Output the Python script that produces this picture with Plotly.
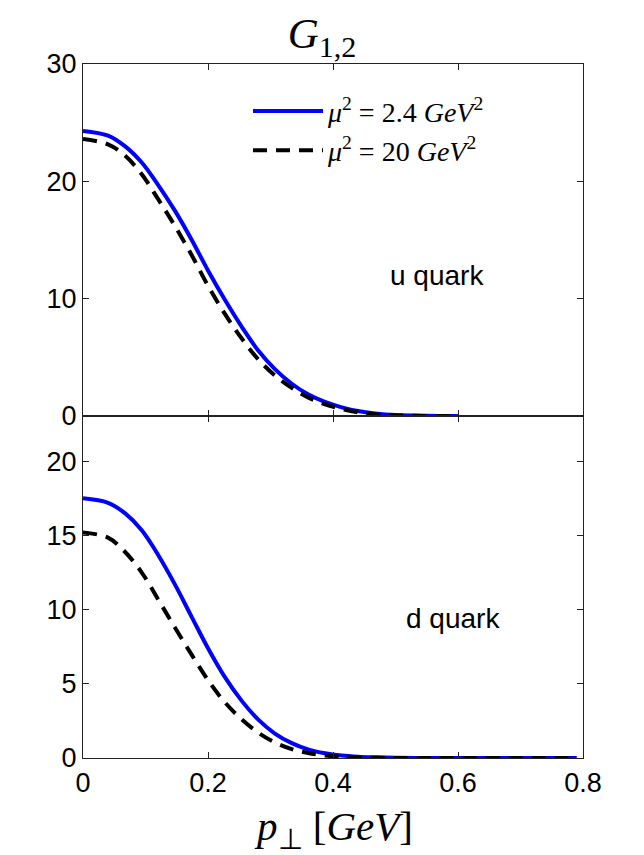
import plotly.graph_objects as go

# p_perp values (GeV)
p_u = [0.0, 0.04, 0.067, 0.094, 0.12, 0.147, 0.174, 0.2, 0.227, 0.254, 0.28, 0.307,
       0.334, 0.36, 0.387, 0.414, 0.44, 0.467, 0.5, 0.55, 0.6]
u_mu24 = [24.3, 23.9, 23.0, 21.6, 19.7, 17.5, 15.0, 12.4, 9.9, 7.6, 5.6, 4.0,
          2.75, 1.85, 1.2, 0.74, 0.42, 0.22, 0.08, 0.02, 0.0]
u_mu20 = [23.6, 23.15, 22.2, 20.6, 18.5, 16.2, 13.7, 11.1, 8.7, 6.6, 4.85, 3.45,
          2.4, 1.58, 1.0, 0.6, 0.32, 0.15, 0.05, 0.01, 0.0]

p_d = [0.0, 0.04, 0.067, 0.094, 0.12, 0.147, 0.174, 0.2, 0.227, 0.254, 0.28, 0.307,
       0.334, 0.36, 0.387, 0.414, 0.44, 0.467, 0.5, 0.55, 0.6, 0.7, 0.79]
d_mu24 = [17.5, 17.2, 16.5, 15.35, 13.7, 11.7, 9.5, 7.4, 5.45, 3.85, 2.6, 1.65,
          1.0, 0.58, 0.32, 0.17, 0.09, 0.05, 0.02, 0.0, 0.0, 0.0, 0.0]
d_mu20 = [15.2, 14.85, 13.9, 12.5, 10.7, 8.8, 6.95, 5.25, 3.75, 2.6, 1.72, 1.05,
          0.6, 0.34, 0.17, 0.08, 0.035, 0.01, 0.0, 0.0, 0.0, 0.0, 0.0]

x_ticks = [0, 0.2, 0.4, 0.6, 0.8]
x_ticklabels = ["0", "0.2", "0.4", "0.6", "0.8"]
top_yticks = [0, 10, 20, 30]
bot_yticks = [0, 5, 10, 15, 20]

name_a = "<i>μ</i><sup>2</sup> = 2.4 <i>GeV</i><sup>2</sup>"
name_b = "<i>μ</i><sup>2</sup> = 20 <i>GeV</i><sup>2</sup>"

BLUE = "#0000ff"
DASH = "14px,9px"
fig = go.Figure()
fig.add_trace(go.Scatter(x=p_u, y=u_mu24, mode="lines", line=dict(color=BLUE, width=4, shape="spline"),
                         name=name_a, xaxis="x", yaxis="y"))
fig.add_trace(go.Scatter(x=p_u, y=u_mu20, mode="lines", line=dict(color="black", width=4, dash=DASH, shape="spline"),
                         name=name_b, xaxis="x", yaxis="y"))
fig.add_trace(go.Scatter(x=p_d, y=d_mu24, mode="lines", line=dict(color=BLUE, width=4, shape="spline"),
                         showlegend=False, xaxis="x2", yaxis="y2"))
fig.add_trace(go.Scatter(x=p_d, y=d_mu20, mode="lines", line=dict(color="black", width=4, dash=DASH, shape="spline"),
                         showlegend=False, xaxis="x2", yaxis="y2"))

split = 342 / 694
axis_common = dict(showline=True, linecolor="#222222", linewidth=1.2, mirror="ticks",
                   ticks="inside", ticklen=6, tickcolor="#222222", showgrid=False, zeroline=False,
                   tickfont=dict(family="Liberation Sans, Arial", size=27, color="black"))

fig.update_layout(
    width=644, height=855,
    margin=dict(l=83, r=61, t=64, b=97),
    paper_bgcolor="white", plot_bgcolor="white",
    xaxis=dict(domain=[0, 1], range=[0, 0.8], anchor="y", tickvals=x_ticks, showticklabels=False, **axis_common),
    yaxis=dict(domain=[split, 1], range=[0, 30], anchor="x", tickvals=top_yticks, **axis_common),
    xaxis2=dict(domain=[0, 1], range=[0, 0.8], anchor="y2", tickvals=x_ticks, ticktext=x_ticklabels,
                **axis_common),
    yaxis2=dict(domain=[0, split], range=[0, 23.05], anchor="x2", tickvals=bot_yticks, **axis_common),
    title=dict(text="<i>G</i><sub>1,2</sub>", x=0.5, xanchor="center", y=0.962, yanchor="middle",
               font=dict(family="Liberation Serif, serif", size=43, color="black")),
    legend=dict(x=0.33, y=0.968, xanchor="left", yanchor="top", bgcolor="rgba(0,0,0,0)",
                font=dict(family="Liberation Serif, serif", size=28, color="black"),
                itemwidth=70, tracegroupgap=2),
    showlegend=True,
    annotations=[
        dict(text="u quark", x=0.566, y=12, xref="x", yref="y", showarrow=False,
             font=dict(family="Liberation Sans, Arial", size=28, color="black")),
        dict(text="d quark", x=0.592, y=9.4, xref="x2", yref="y2", showarrow=False,
             font=dict(family="Liberation Sans, Arial", size=28, color="black")),
        dict(text="<i>p</i><sub>⊥</sub> [<i>GeV</i>]", x=0.5, y=-0.103, xref="paper", yref="paper",
             xanchor="center", yanchor="middle", showarrow=False,
             font=dict(family="Liberation Serif, serif", size=41, color="black")),
    ],
)

fig.write_html("out.html")
